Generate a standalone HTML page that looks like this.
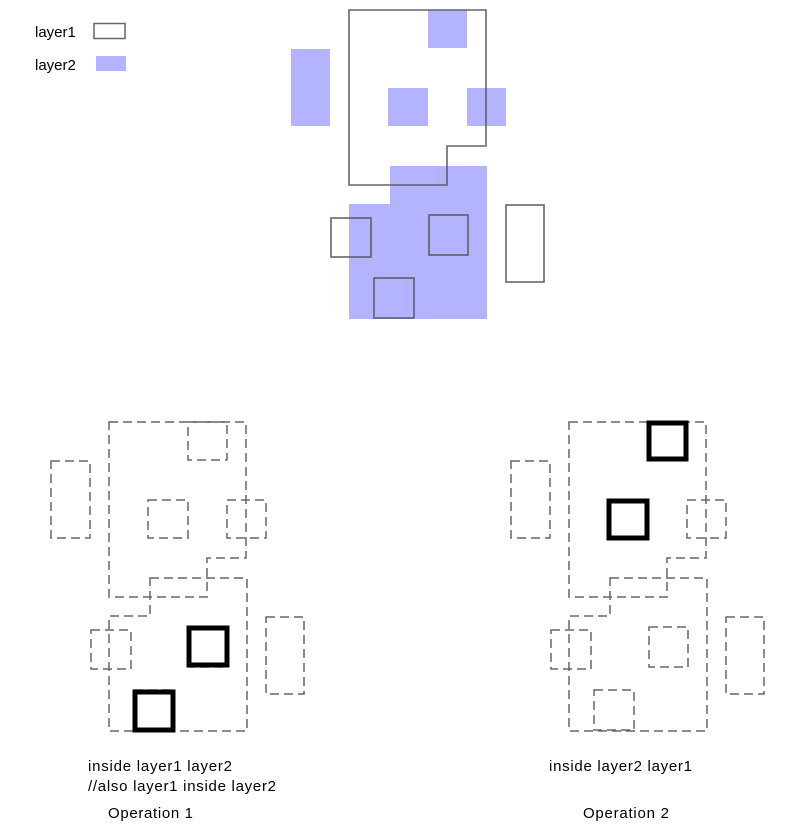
<!DOCTYPE html>
<html><head><meta charset="utf-8"><style>
html,body{margin:0;padding:0;background:#fff;}
svg{display:block;}
text{font-family:"Liberation Sans",sans-serif;font-size:15px;fill:#000;}
</style></head><body>
<svg width="790" height="831" viewBox="0 0 790 831" xmlns="http://www.w3.org/2000/svg">
<defs>
  <g id="l1">
    <path d="M349,10 H486 V146 H447 V185 H349 Z"/>
    <rect x="331" y="218" width="40" height="39"/>
    <rect x="429" y="215" width="39" height="40"/>
    <rect x="374" y="278" width="40" height="40"/>
    <rect x="506" y="205" width="38" height="77"/>
  </g>
  <g id="l2">
    <rect x="428" y="10" width="39" height="38"/>
    <rect x="291" y="49" width="39" height="77"/>
    <rect x="388" y="88" width="40" height="38"/>
    <rect x="467" y="88" width="39" height="38"/>
    <path d="M390,166 H487 V319 H349 V204 H390 Z"/>
  </g>
</defs>

<text x="35" y="37">layer1</text>
<rect x="94" y="23.5" width="31" height="15" fill="none" stroke="#666" stroke-width="1.5"/>
<text x="35" y="70">layer2</text>
<rect x="96" y="56" width="30" height="15" fill="#b3b3ff"/>

<use href="#l2" fill="#b3b3ff"/>
<use href="#l1" fill="none" stroke="#555" stroke-width="1.6" stroke-opacity="0.9"/>

<g transform="translate(-240,412)">
  <use href="#l2" fill="none" stroke="#666" stroke-width="1.5" stroke-dasharray="9,5"/>
  <use href="#l1" fill="none" stroke="#666" stroke-width="1.5" stroke-dasharray="9,5"/>
  <rect x="429" y="216" width="38" height="37" fill="none" stroke="#000" stroke-width="5"/>
  <rect x="375" y="280" width="38" height="38" fill="none" stroke="#000" stroke-width="5"/>
</g>

<g transform="translate(220,412)">
  <use href="#l2" fill="none" stroke="#666" stroke-width="1.5" stroke-dasharray="9,5"/>
  <use href="#l1" fill="none" stroke="#666" stroke-width="1.5" stroke-dasharray="9,5"/>
  <rect x="429" y="11" width="37" height="36" fill="none" stroke="#000" stroke-width="5"/>
  <rect x="389" y="89" width="38" height="37" fill="none" stroke="#000" stroke-width="5"/>
</g>

<text x="88" y="771" textLength="144">inside layer1 layer2</text>
<text x="88" y="791" textLength="188">//also layer1 inside layer2</text>
<text x="108" y="818" textLength="85">Operation 1</text>
<text x="549" y="771" textLength="143">inside layer2 layer1</text>
<text x="583" y="818" textLength="86">Operation 2</text>
</svg>
</body></html>
